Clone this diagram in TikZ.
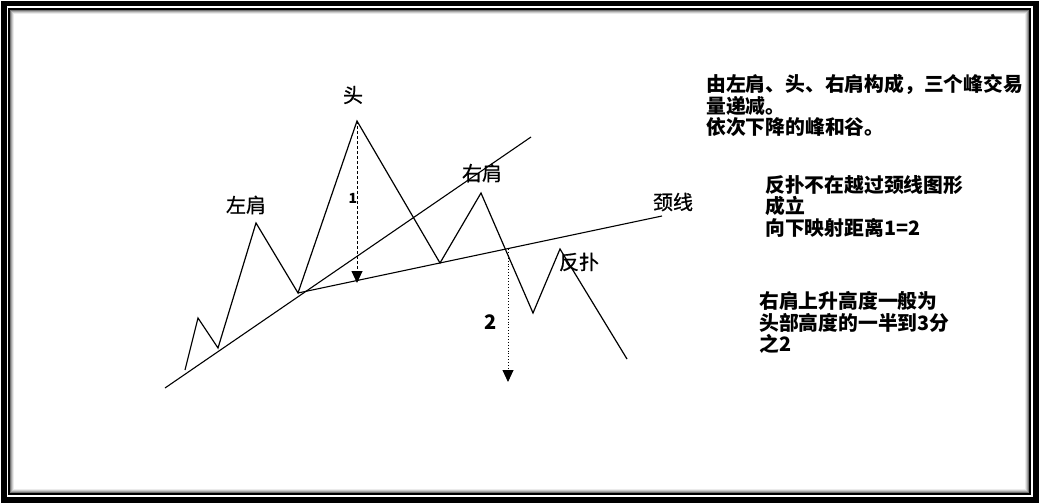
\documentclass[tikz,border=0pt]{standalone}
\usepackage{fontspec}
\newfontfamily\cjk{Noto Sans CJK SC}
\newfontfamily\cjkm{Noto Sans CJK SC}[FakeBold=0.8]
\usetikzlibrary{arrows.meta}
\tikzset{
  price/.style={line width=1.2pt, line join=miter},
  trend/.style={line width=1.1pt},
  lbl/.style={font=\cjkm\fontsize{20}{22}\selectfont, inner sep=0pt},
  note/.style={font=\cjk\bfseries\fontsize{19.8}{21.7}\selectfont, inner sep=0pt, align=left, anchor=north west},
  num/.style={inner sep=0pt},
  proj/.style={line width=0.9pt, -{Triangle[width=11pt,length=12pt]}},
}
\begin{document}
\begin{tikzpicture}[x=1pt,y=-1pt]
\useasboundingbox (0,0) rectangle (1039,503);
% frame
\fill[white] (0,0) rectangle (1039,503);
\fill[black] (1,1) rectangle (1039,503);
\fill[white] (6.5,6.5) rectangle (1033,497);
\draw[black, line width=2pt] (9,9) rectangle (1030,494);
\draw[black!55, line width=1pt] (10.5,10.5) rectangle (1028.5,492.5);
\draw[black!35, line width=1pt] (11.5,11.5) rectangle (1027.5,491.5);
\draw[black!20, line width=1pt] (12.5,12.5) rectangle (1026.5,490.5);
\draw[black!8, line width=1pt] (13.5,13.5) rectangle (1025.5,489.5);
% price path points
\coordinate (p0) at (185,370);
\coordinate (p1) at (198,318);
\coordinate (p2) at (218,348);
\coordinate (ls) at (256,223);
\coordinate (t1) at (298,293);
\coordinate (hd) at (357,121);
\coordinate (t2) at (440,263);
\coordinate (rs) at (481,193);
\coordinate (t3) at (533,313);
\coordinate (tb) at (560,249);
\coordinate (pe) at (627,359);
% trend lines
\coordinate (tr0) at (165,388);
\coordinate (tr1) at (531,137);
\coordinate (nk1) at (662,216);
\coordinate (h1) at (357,283);
\coordinate (b0) at (508,249);
\coordinate (b1) at (508,382);
\draw[price] (p0) -- (p1) -- (p2) -- (ls) -- (t1) -- (hd) -- (t2) -- (rs) -- (t3) -- (tb) -- (pe);
\draw[trend] (tr0) -- (tr1);
\draw[trend] (t1) -- (nk1);
% projections
\draw[proj, densely dashed] (hd) -- (h1);
\draw[proj, dotted] (b0) -- (b1);
% labels
\node[lbl] (lhead) at (353,95) {头};
\node[lbl] (lls) at (246,205) {左肩};
\node[lbl] (lrs) at (482,173) {右肩};
\node[lbl] (lneck) at (673,202) {颈线};
\node[lbl] (lthrow) at (579,262) {反扑};
\node[num, font=\cjk\bfseries\fontsize{14}{14}\selectfont] (n1) at (353,198) {1};
\node[num, font=\cjk\bfseries\fontsize{20}{20}\selectfont] (n2) at (491,322) {2};
% notes
\node[note] (note1) at (706,74) {由左肩、头、右肩构成，三个峰交易\\量递减。\\依次下降的峰和谷。};
\node[note] (note2) at (765,175) {反扑不在越过颈线图形\\成立\\向下映射距离1=2};
\node[note] (note3) at (759,291) {右肩上升高度一般为\\头部高度的一半到3分\\之2};
\end{tikzpicture}
\end{document}
